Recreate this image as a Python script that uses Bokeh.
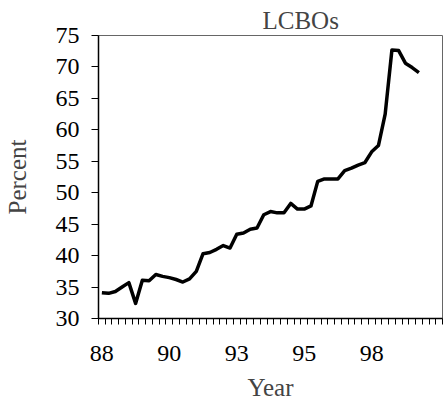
from bokeh.plotting import figure
from bokeh.models import FixedTicker, Range1d, ColumnDataSource
from bokeh.embed import file_html
from bokeh.resources import INLINE

quarter_index = list(range(48))
lcbo_percent = [34.1, 34.0, 34.3, 35.0, 35.7, 32.4, 36.1, 36.0, 37.0, 36.7,
                36.5, 36.2, 35.8, 36.3, 37.5, 40.3, 40.5, 41.0, 41.6, 41.2,
                43.4, 43.6, 44.2, 44.4, 46.5, 47.0, 46.8, 46.8, 48.3, 47.4,
                47.4, 47.9, 51.8, 52.2, 52.2, 52.2, 53.5, 53.9, 54.4, 54.8,
                56.5, 57.5, 62.5, 72.7, 72.6, 70.6, 69.9, 69.1]
n_categories = 51
year_label_positions = [0, 10, 20, 30, 40]
year_labels = ["88", "90", "93", "95", "98"]
y_ticks = [30, 35, 40, 45, 50, 55, 60, 65, 70, 75]

FONT = "Liberation Serif"

source = ColumnDataSource(data=dict(x=quarter_index, y=lcbo_percent))

p = figure(width=444, height=403, output_backend="svg", toolbar_location=None,
           x_range=Range1d(-0.5, n_categories - 0.5), y_range=Range1d(30, 75),
           min_border_left=98, min_border_right=2, min_border_top=35,
           min_border_bottom=82)

p.background_fill_color = "white"
p.border_fill_color = "white"
p.outline_line_color = "#666666"
p.outline_line_width = 1
p.xgrid.visible = False
p.ygrid.visible = False

p.line("x", "y", source=source, line_width=3.5, line_color="black",
       line_join="round")

# title
p.title.text = "LCBOs"
p.title.align = "left"
p.title.offset = 164
p.title.text_font = FONT
p.title.text_font_size = "25px"
p.title.text_font_style = "normal"
p.title.standoff = 4

# x axis: tick marks between categories, labels at category centres
xa = p.xaxis[0]
xa.ticker = FixedTicker(ticks=year_label_positions,
                        minor_ticks=[i - 0.5 for i in range(n_categories + 1)])
xa.major_label_overrides = {pos: lab for pos, lab in zip(year_label_positions, year_labels)}
xa.major_tick_out = 0
xa.major_tick_in = 0
xa.minor_tick_out = 6
xa.minor_tick_in = 0
xa.minor_tick_line_color = "black"
xa.axis_line_color = "black"
xa.axis_line_width = 1.5
xa.major_label_standoff = 21
xa.major_label_text_font = FONT
xa.major_label_text_font_size = "24px"
xa.major_label_text_color = "black"
xa.axis_label = "Year"
xa.axis_label_text_font = FONT
xa.axis_label_text_font_size = "25px"
xa.axis_label_text_font_style = "normal"
xa.axis_label_standoff = 10

# y axis
ya = p.yaxis[0]
ya.ticker = FixedTicker(ticks=y_ticks, minor_ticks=[])
ya.major_tick_out = 7
ya.major_tick_in = 0
ya.minor_tick_out = 0
ya.minor_tick_in = 0
ya.major_tick_line_color = "black"
ya.axis_line_color = "black"
ya.axis_line_width = 1.5
ya.major_label_standoff = 12
ya.major_label_text_font = FONT
ya.major_label_text_font_size = "24px"
ya.major_label_text_color = "black"
ya.axis_label = "Percent"
ya.axis_label_text_font = FONT
ya.axis_label_text_font_size = "25px"
ya.axis_label_text_font_style = "normal"
ya.axis_label_standoff = 22

open("out.html", "w").write(file_html(p, INLINE))
